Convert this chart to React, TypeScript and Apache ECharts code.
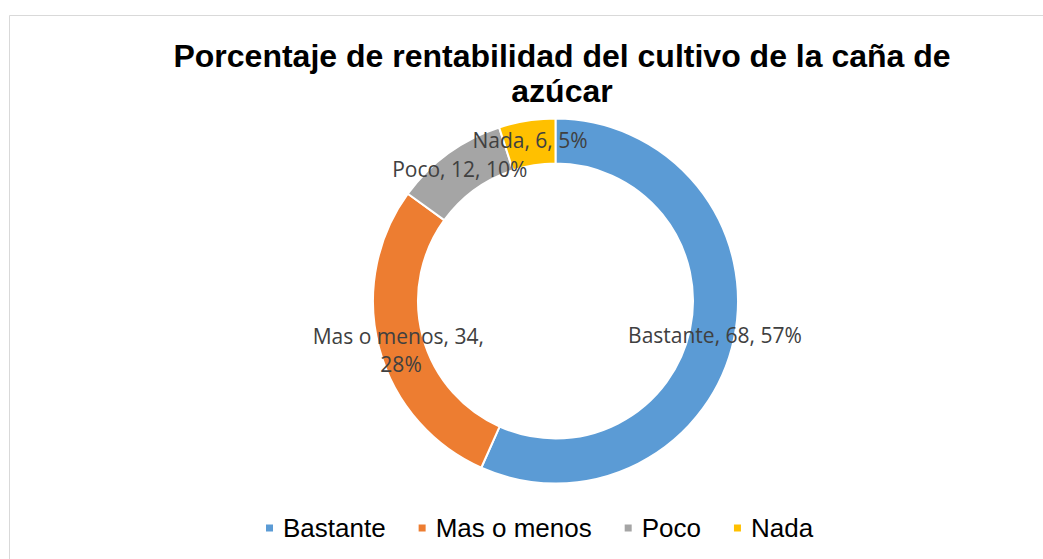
import React, { useEffect, useRef } from "react";
import * as echarts from "echarts";

const TITLE = "Porcentaje de rentabilidad del cultivo de la caña de\nazúcar";
const categories = ["Bastante", "Mas o menos", "Poco", "Nada"];
const values = [68, 34, 12, 6];
const colors = ["#5B9BD5", "#ED7D31", "#A5A5A5", "#FFC000"];

export default function App() {
  const ref = useRef<HTMLDivElement>(null);
  useEffect(() => {
    if (!ref.current) return;
    const chart = echarts.init(ref.current, undefined, { renderer: "svg" });
    const total = values.reduce((a, b) => a + b, 0);
    const data = categories.map((name, i) => {
      const item: any = { name, value: values[i], itemStyle: { color: colors[i] } };
      if (name === "Mas o menos") {
        item.label = { width: 180, overflow: "break", offset: [3, 7] };
      }
      return item;
    });
    chart.setOption({
      animation: false,
      backgroundColor: "#ffffff",
      graphic: [
        {
          type: "rect",
          shape: { x: 9.5, y: 15.5, width: 1200, height: 700 },
          style: { fill: "none", stroke: "#D9D9D9", lineWidth: 1 },
          silent: true,
        },
      ],
      title: {
        text: TITLE,
        left: 562,
        top: 38,
        textAlign: "center",
        textStyle: {
          fontFamily: "Liberation Sans",
          fontWeight: "bold",
          fontSize: 32,
          lineHeight: 35,
          color: "#000000",
        },
        padding: 0,
      },
      legend: {
        data: categories,
        left: 264,
        top: 514,
        padding: 0,
        icon: "rect",
        itemWidth: 9,
        itemHeight: 9,
        itemGap: 31,
        textStyle: {
          fontFamily: "Liberation Sans",
          fontSize: 26,
          lineHeight: 28,
          color: "#000000",
          padding: [0, 0, 0, 4],
        },
      },
      series: [
        {
          type: "pie",
          center: [555.5, 301],
          radius: [137.5, 182.5],
          startAngle: 90,
          clockwise: true,
          avoidLabelOverlap: false,
          itemStyle: { borderColor: "#ffffff", borderWidth: 2 },
          label: {
            show: true,
            position: "inside",
            rotate: 0,
            fontFamily: "Open Sans",
            fontSize: 21,
            lineHeight: 28,
            color: "#404040",
            formatter: (p: any) =>
              `${p.name}, ${p.value}, ${Math.round((p.value / total) * 100)}%`,
          },
          labelLine: { show: false },
          emphasis: { disabled: true },
          data,
        },
      ],
    });
    return () => chart.dispose();
  }, []);
  return (
    <div
      ref={ref}
      style={{ position: "fixed", left: 0, top: 0, width: 1043, height: 559 }}
    />
  );
}
